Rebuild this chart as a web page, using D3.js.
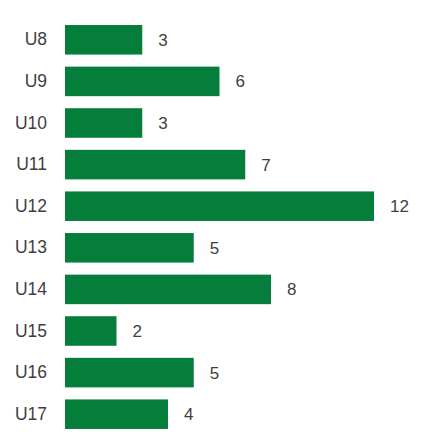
<!DOCTYPE html>
<html><head><meta charset="utf-8">
<script src="https://cdn.jsdelivr.net/npm/d3@7"></script>
<style>html,body{margin:0;padding:0;background:#fff;}</style>
</head><body><div id="chart"></div>
<script>
const categories = ["U8","U9","U10","U11","U12","U13","U14","U15","U16","U17"];
const values = [3,6,3,7,12,5,8,2,5,4];

const W = 424, H = 447;
const svg = d3.select("#chart").append("svg").attr("width", W).attr("height", H);
svg.append("rect").attr("width", W).attr("height", H).attr("fill", "#ffffff");

const x = d3.scaleLinear().domain([0, 12]).range([65, 374]);
const y = d3.scaleBand().domain(categories).range([19, 435]).paddingInner(0.29).paddingOuter(0.145);

const data = categories.map((c, i) => ({c, v: values[i]}));

svg.selectAll("rect.bar").data(data).enter().append("rect")
  .attr("class", "bar")
  .attr("x", x(0))
  .attr("y", d => y(d.c))
  .attr("width", d => x(d.v) - x(0))
  .attr("height", y.bandwidth())
  .attr("fill", "#067e3b");

const yAxis = d3.axisLeft(y).tickSize(0).tickPadding(0);
const gy = svg.append("g").attr("transform", "translate(47,0)").call(yAxis);
gy.select(".domain").remove();
gy.selectAll("text").attr("font-family", "Liberation Sans, Arial, sans-serif")
  .attr("font-size", 17.5).attr("fill", "#404040");

svg.selectAll("text.val").data(data).enter().append("text")
  .attr("class", "val")
  .attr("x", d => x(d.v) + 16)
  .attr("y", d => y(d.c) + y.bandwidth() / 2)
  .attr("dy", "0.35em")
  .attr("font-family", "Liberation Sans, Arial, sans-serif")
  .attr("font-size", 17).attr("fill", "#404040")
  .text(d => d.v);
</script></body></html>
